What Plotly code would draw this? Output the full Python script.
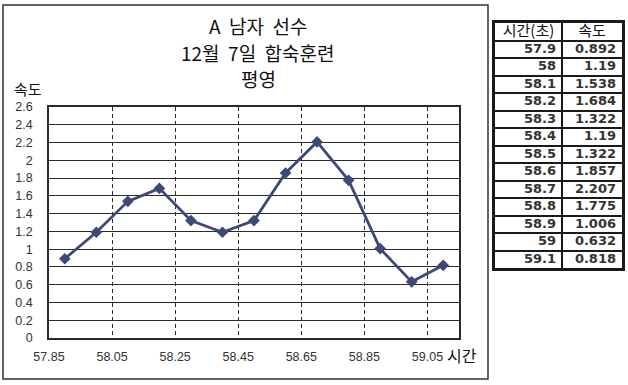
import plotly.graph_objects as go

time_s = [57.9, 58.0, 58.1, 58.2, 58.3, 58.4, 58.5, 58.6, 58.7, 58.8, 58.9, 59.0, 59.1]
speed = [0.892, 1.19, 1.538, 1.684, 1.322, 1.19, 1.322, 1.857, 2.207, 1.775, 1.006, 0.632, 0.818]
time_labels = ["57.9", "58", "58.1", "58.2", "58.3", "58.4", "58.5", "58.6", "58.7", "58.8", "58.9", "59", "59.1"]
speed_labels = ["0.892", "1.19", "1.538", "1.684", "1.322", "1.19", "1.322", "1.857", "2.207", "1.775", "1.006", "0.632", "0.818"]
x_ticks = [57.85, 58.05, 58.25, 58.45, 58.65, 58.85, 59.05]
x_tick_text = ["57.85", "58.05", "58.25", "58.45", "58.65", "58.85", "59.05"]
title_lines = ["A\u00a0\u00a0남자\u00a0\u00a0선수", "12월\u00a0\u00a07일\u00a0\u00a0합숙훈련", "평영"]
header = ["시간(초)", "속도"]

W, H = 628, 385
def px(x):
    return x / W
def py(y):
    return 1 - y / H

KR = "Noto Sans CJK KR, sans-serif"
NUM = "Liberation Sans, Arial, sans-serif"
DARK = "#2a2a2a"
TBL = "#1a1a1a"

# table layout (column widths in table-axis units)
col_edges = [0, 67, 127]
cell_pad = 6
n_rows = len(time_labels) + 1

fig = go.Figure()

fig.add_trace(go.Scatter(
    x=time_s, y=speed, mode="lines+markers",
    line=dict(color="#3d4a78", width=2.8),
    marker=dict(symbol="diamond", size=9, color="#3d4a78"),
    showlegend=False, cliponaxis=False, hoverinfo="skip",
))

# table header
fig.add_trace(go.Scatter(
    x=[(col_edges[0] + col_edges[1]) / 2, (col_edges[1] + col_edges[2]) / 2],
    y=[0.5, 0.5], text=header, mode="text", textposition="middle center",
    textfont=dict(family=KR, size=15, color="#111"),
    xaxis="x2", yaxis="y2", showlegend=False, hoverinfo="skip",
))
rows = [i + 1.5 for i in range(len(time_labels))]
for ci, labels in enumerate([time_labels, speed_labels]):
    fig.add_trace(go.Scatter(
        x=[col_edges[ci + 1] - cell_pad] * len(labels), y=rows, text=labels,
        mode="text", textposition="middle left",
        textfont=dict(family="DejaVu Sans, sans-serif", size=13, color="#333", weight="bold"),
        xaxis="x2", yaxis="y2", showlegend=False, hoverinfo="skip",
    ))

fig.update_layout(
    width=W, height=H,
    margin=dict(l=0, r=0, t=0, b=0, pad=0, autoexpand=False),
    paper_bgcolor="white", plot_bgcolor="white", hovermode=False,
    xaxis=dict(domain=[px(49), px(459)], range=[57.85, 59.15],
               tickmode="array", tickvals=x_ticks, ticktext=x_tick_text,
               showgrid=True, gridcolor=DARK, gridwidth=1, griddash="4px,3px",
               showline=True, linecolor=DARK, linewidth=1.5, mirror=True,
               zeroline=False, ticks="", ticklabelstandoff=6, automargin=False,
               tickfont=dict(family=NUM, size=12.5, color="#333")),
    yaxis=dict(domain=[py(338), py(107)], range=[0, 2.6], dtick=0.2, tick0=0,
               showgrid=True, gridcolor=DARK, gridwidth=1.3,
               showline=True, linecolor=DARK, linewidth=1.5, mirror=True,
               zeroline=False, ticks="", ticklabelstandoff=12, automargin=False,
               tickfont=dict(family=NUM, size=12.5, color="#333")),
    xaxis2=dict(domain=[px(495), px(622)], range=[col_edges[0], col_edges[-1]],
                tickmode="array", tickvals=col_edges, showticklabels=False, ticks="",
                showgrid=True, gridcolor=TBL, gridwidth=2,
                showline=True, linecolor=TBL, linewidth=2.5, mirror=True,
                zeroline=False, anchor="y2", fixedrange=True, automargin=False),
    yaxis2=dict(domain=[py(268), py(23)], range=[n_rows, 0],
                tickmode="linear", tick0=0, dtick=1, showticklabels=False, ticks="",
                showgrid=True, gridcolor=TBL, gridwidth=2,
                showline=True, linecolor=TBL, linewidth=2.5, mirror=True,
                zeroline=False, anchor="x2", fixedrange=True, automargin=False),
)

for t, yy in zip(title_lines, [25, 52, 79]):
    fig.add_annotation(text=t, x=px(258), y=py(yy), xref="paper", yref="paper",
                       xanchor="center", yanchor="middle", showarrow=False,
                       font=dict(family=KR, size=19, color="#111"))

fig.add_annotation(text="속도", x=px(28), y=py(89), xref="paper", yref="paper",
                   xanchor="center", yanchor="middle", showarrow=False,
                   font=dict(family=KR, size=15, color="#111"))
fig.add_annotation(text="시간", x=px(462), y=py(355), xref="paper", yref="paper",
                   xanchor="center", yanchor="middle", showarrow=False,
                   font=dict(family=KR, size=16, color="#111"))

fig.add_shape(type="rect", xref="paper", yref="paper",
              x0=px(3), x1=px(488), y0=py(379), y1=py(5),
              line=dict(color="#333", width=1.5))

fig.write_html("out.html", config={"displayModeBar": False},
               post_script="document.body.style.margin='0px';")
